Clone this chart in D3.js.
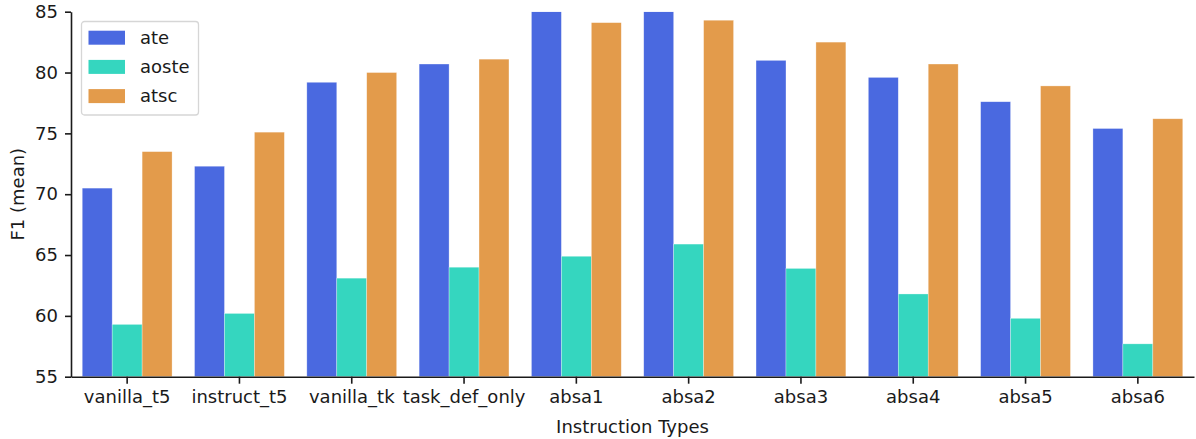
<!DOCTYPE html>
<html>
<head>
<meta charset="utf-8">
<script src="https://cdn.jsdelivr.net/npm/d3@7"></script>
<style>
  body { margin: 0; background: #fff; }
  text { font-family: 'DejaVu Sans', sans-serif; fill: #1a1a1a; }
  .axis path, .axis line { stroke: #1a1a1a; stroke-width: 1.6px; }
  .axis text { font-size: 18px; }
</style>
</head>
<body>
<div id="chart"></div>
<script>
  // Data
  const categories = ['vanilla_t5', 'instruct_t5', 'vanilla_tk', 'task_def_only',
    'absa1', 'absa2', 'absa3', 'absa4', 'absa5', 'absa6'];
  const seriesNames = ['ate', 'aoste', 'atsc'];
  const ate = [70.5, 72.3, 79.2, 80.7, 85.0, 85.0, 81.0, 79.6, 77.6, 75.4];
  const aoste = [59.3, 60.2, 63.1, 64.0, 64.9, 65.9, 63.9, 61.8, 59.8, 57.7];
  const atsc = [73.5, 75.1, 80.0, 81.1, 84.1, 84.3, 82.5, 80.7, 78.9, 76.2];
  const yTicks = [55, 60, 65, 70, 75, 80, 85];

  const seriesValues = { ate: ate, aoste: aoste, atsc: atsc };

  const W = 1196, H = 439;
  const margin = { top: 11.7, right: 2, bottom: 62.3, left: 71 };
  const w = W - margin.left - margin.right;
  const h = H - margin.top - margin.bottom;

  const svg = d3.select('#chart').append('svg')
    .attr('width', W)
    .attr('height', H);

  const g = svg.append('g')
    .attr('transform', `translate(${ margin.left }, ${ margin.top })`);

  // Scales
  const x0 = d3.scaleBand()
    .domain(categories)
    .range([0, w])
    .paddingInner(0)
    .paddingOuter(0);

  const x1 = d3.scaleBand()
    .domain(seriesNames)
    .range([x0.bandwidth() * 0.1, x0.bandwidth() * 0.9]);

  const yScale = d3.scaleLinear()
    .domain([55, 85])
    .range([h, 0]);

  const color = d3.scaleOrdinal()
    .domain(seriesNames)
    .range(['#4a69e0', '#35d6bf', '#e39b4b']);

  // clip so bars stop at the top of the axis
  g.append('clipPath')
    .attr('id', 'clip')
    .append('rect')
    .attr('width', w)
    .attr('height', h);

  // bars
  const rows = [];
  categories.forEach(function(c, i) {
    seriesNames.forEach(function(s) {
      rows.push({ cat: c, series: s, value: seriesValues[s][i] });
    });
  });

  g.append('g')
    .attr('clip-path', 'url(#clip)')
    .selectAll('rect')
    .data(rows)
    .enter()
    .append('rect')
      .attr('x', function(d) { return x0(d.cat) + x1(d.series); })
      .attr('y', function(d) { return yScale(d.value); })
      .attr('width', x1.bandwidth())
      .attr('height', function(d) { return h - yScale(d.value); })
      .attr('fill', function(d) { return color(d.series); })
      .attr('stroke', '#ffffff')
      .attr('stroke-opacity', 0.5)
      .attr('stroke-width', 0.6);

  // x-axis
  g.append('g')
    .attr('class', 'axis')
    .attr('transform', `translate(0, ${ h })`)
    .call(d3.axisBottom(x0).tickSize(7).tickPadding(6).tickSizeOuter(0))
    .call(function(a) { a.selectAll('text').attr('dy', '0.75em'); });

  // y-axis
  g.append('g')
    .attr('class', 'axis')
    .call(d3.axisLeft(yScale).tickValues(yTicks).tickSize(6).tickPadding(7).tickSizeOuter(0));

  // axis labels
  svg.append('text')
    .attr('x', margin.left + w / 2)
    .attr('y', 433)
    .style('text-anchor', 'middle')
    .style('font-size', '18px')
    .text('Instruction Types');

  svg.append('text')
    .attr('transform', `translate(24, ${ margin.top + h / 2 }) rotate(-90)`)
    .style('text-anchor', 'middle')
    .style('font-size', '18px')
    .text('F1 (mean)');

  // legend
  const legendBox = svg.append('g')
    .attr('transform', 'translate(81.5, 21.5)');

  legendBox.append('rect')
    .attr('width', 117)
    .attr('height', 93.5)
    .attr('rx', 3)
    .attr('fill', '#ffffff')
    .attr('fill-opacity', 0.8)
    .attr('stroke', '#d6d6d6')
    .attr('stroke-width', 1.3);

  const legend = legendBox.selectAll('.legend')
    .data(seriesNames)
    .enter()
    .append('g')
    .attr('class', 'legend')
    .attr('transform', function(d, i) { return `translate(0, ${ 16.2 + i * 29.2 })`; });

  legend.append('rect')
    .attr('x', 7)
    .attr('y', -7)
    .attr('width', 36.5)
    .attr('height', 14)
    .attr('fill', color);

  legend.append('text')
    .attr('x', 58.5)
    .attr('y', 0)
    .attr('dy', '0.35em')
    .style('font-size', '18px')
    .text(function(d) { return d; });
</script>
</body>
</html>
